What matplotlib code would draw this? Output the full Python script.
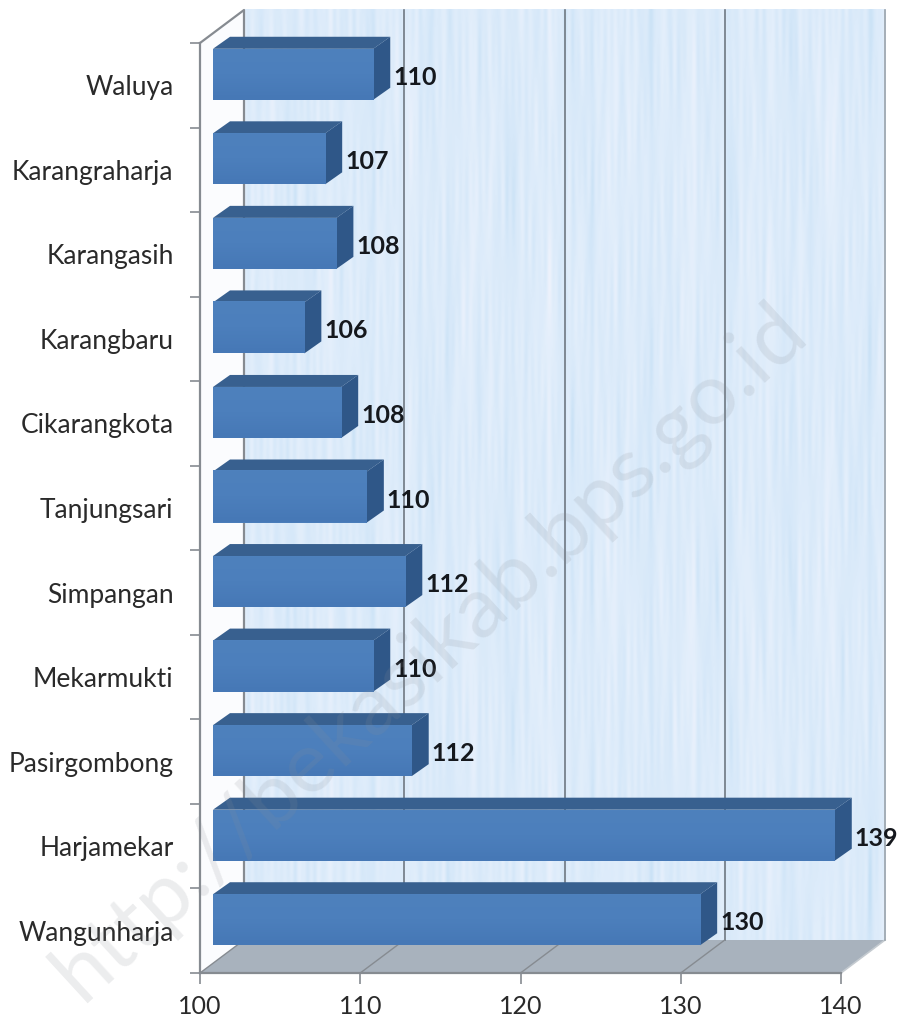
import matplotlib
matplotlib.use('Agg')
import matplotlib.pyplot as plt
from matplotlib.colors import LinearSegmentedColormap
from matplotlib.patches import Polygon
import numpy as np

# desa names, bottom to top
desa = ['Wangunharja', 'Harjamekar', 'Pasirgombong', 'Mekarmukti', 'Simpangan',
        'Tanjungsari', 'Cikarangkota', 'Karangbaru', 'Karangasih', 'Karangraharja', 'Waluya']
# bar lengths (labels are rounded)
values = [130.4, 138.8, 112.4, 110.0, 112.0, 109.6, 108.0, 105.7, 107.7, 107.0, 110.0]
labels = ['130', '139', '112', '110', '112', '110', '108', '106', '108', '107', '110']
x_ticks = [100, 110, 120, 130, 140]
grid_x = [110, 120, 130]

plt.rcParams['font.family'] = ['Lato', 'DejaVu Sans']

W, H = 900, 1022
fig = plt.figure(figsize=(W / 100, H / 100), dpi=100)
ax = fig.add_axes([200 / W, (H - 973) / H, 641 / W, 930 / H])
ax.set_xlim(100, 140)
ax.set_ylim(-0.5, 10.5)

# pixel size in data units, for the fake 3d offsets
px = 40 / 641
py = 11 / 930

wall_dx = 44 * px
wall_dy = 33 * py

# left wall
ax.add_patch(Polygon([(100, -0.5), (100 + wall_dx, -0.5 + wall_dy),
                      (100 + wall_dx, 10.5 + wall_dy), (100, 10.5)],
                     fc='#fbfcfe', ec='none', clip_on=False, zorder=0))

# back wall texture, soft vertical streaks
xx = np.linspace(0, 1, 640)
yy = np.linspace(0, 1, 310)
X, Y = np.meshgrid(xx, yy)
tex = np.zeros_like(X)
for f, p, m in [(9, 0.3, 2.1), (23, 1.7, 3.3), (41, 4.1, 5.2), (67, 2.2, 4.3), (97, 0.9, 7.1)]:
    env = 0.5 + 0.5 * np.sin(2 * np.pi * m * Y + f + 3 * np.sin(2 * np.pi * 3 * X + p))
    tex += env * np.sin(2 * np.pi * f * X + p + 0.4 * np.sin(2 * np.pi * 1.5 * Y + f))
tex = (tex - tex.min()) / (tex.max() - tex.min())
wall_cmap = LinearSegmentedColormap.from_list('wall', ['#c6e0f5', '#d6e8f9', '#e2eefb', '#eef2fc'])
ax.imshow(tex, cmap=wall_cmap, aspect='auto', zorder=0.5, clip_on=False,
          interpolation='bilinear',
          extent=(100 + wall_dx, 140 + wall_dx, -0.5 + wall_dy, 10.5 + wall_dy))

# floor
ax.add_patch(Polygon([(100, -0.5), (140, -0.5), (140 + wall_dx, -0.5 + wall_dy), (100 + wall_dx, -0.5 + wall_dy)],
                     fc='#a8b2bd', ec='none', clip_on=False, zorder=1))

# gridlines on the back wall and floor
edge = '#868b91'
for g in grid_x:
    ax.plot([g + wall_dx, g + wall_dx], [-0.5 + wall_dy, 10.5 + wall_dy], color='#6f7882', lw=1.2,
            clip_on=False, zorder=1.5)
    ax.plot([g, g + wall_dx], [-0.5, -0.5 + wall_dy], color=edge, lw=1, clip_on=False, zorder=1.5)

# wall edges
ax.plot([100, 100 + wall_dx, 100 + wall_dx], [10.5, 10.5 + wall_dy, -0.5 + wall_dy], color=edge, lw=1.6,
        clip_on=False, zorder=1.6)
ax.plot([100, 100 + wall_dx], [-0.5, -0.5 + wall_dy], color=edge, lw=1, clip_on=False, zorder=1.6)
ax.plot([140, 140 + wall_dx], [-0.5, -0.5 + wall_dy], color='#c4cad0', lw=1.2, clip_on=False, zorder=1.6)
ax.plot([140 + wall_dx, 140 + wall_dx], [-0.5 + wall_dy, 10.5 + wall_dy], color='#9aa3ab', lw=1.2,
        clip_on=False, zorder=1.6)

# bars: front face offset into the box, then top and side faces
off_x = 13 * px
off_y = 11 * py
dep_x = 17 * px
dep_y = 12 * py
bar_h = 51 * py
ys = np.arange(len(desa))

ax.barh(ys + off_y, np.array(values) - 100, left=100 + off_x, height=bar_h, color='#4a7dba',
        edgecolor='none', zorder=3, clip_on=False)

face_cmap = LinearSegmentedColormap.from_list('face', ['#4678b6', '#4c7fbc', '#4e81bd'])
shade = np.linspace(0, 1, 32).reshape(-1, 1)

for y, v, lab in zip(ys, values, labels):
    x0 = 100 + off_x
    x1 = v + off_x
    top = y + off_y + bar_h / 2
    bot = y + off_y - bar_h / 2
    ax.imshow(shade, cmap=face_cmap, aspect='auto', origin='lower', zorder=3.1, clip_on=False,
              extent=(x0, x1, bot, top))
    ax.add_patch(Polygon([(x0, top), (x1, top), (x1 + dep_x, top + dep_y), (x0 + dep_x, top + dep_y)],
                         fc='#38608f', ec='none', clip_on=False, zorder=3))
    ax.add_patch(Polygon([(x1, top), (x1 + dep_x, top + dep_y), (x1 + dep_x, bot + dep_y), (x1, bot)],
                         fc='#2f5788', ec='none', clip_on=False, zorder=3))
    ax.annotate(lab, xy=(x1, y + off_y), xytext=(20 * 0.72, -3 * 0.72), textcoords='offset points',
                ha='left', va='center', fontsize=18, fontweight='bold', color='#15181d',
                annotation_clip=False, zorder=5)

# imshow resets the limits
ax.set_xlim(100, 140)
ax.set_ylim(-0.5, 10.5)

# axes
for s in ['top', 'right']:
    ax.spines[s].set_visible(False)
ax.patch.set_visible(False)
for s in ['left', 'bottom']:
    ax.spines[s].set_color(edge)
    ax.spines[s].set_linewidth(1.6)
    ax.spines[s].set_zorder(2)

ax.set_xticks(x_ticks)
ax.set_xticklabels([str(t) for t in x_ticks])
ax.tick_params(axis='x', length=8, width=1.2, color=edge, labelsize=18, labelcolor='#2a2a2a', pad=8)

ax.set_yticks(np.arange(-0.5, 11, 1))
ax.set_yticklabels([])
ax.set_yticks(ys, labels=desa, minor=True)
ax.tick_params(axis='y', which='major', length=7, width=1.2, color=edge)
ax.tick_params(axis='y', which='minor', length=0, labelsize=19, labelcolor='#2a2a2a', pad=19)

# watermark across everything
fig.text(0.478, 0.362, 'http://bekasikab.bps.go.id', rotation=42.5, rotation_mode='anchor',
         ha='center', va='center', fontsize=62, color='#8a8f96', alpha=0.16, zorder=10)

fig.savefig('out.png', dpi=100)
